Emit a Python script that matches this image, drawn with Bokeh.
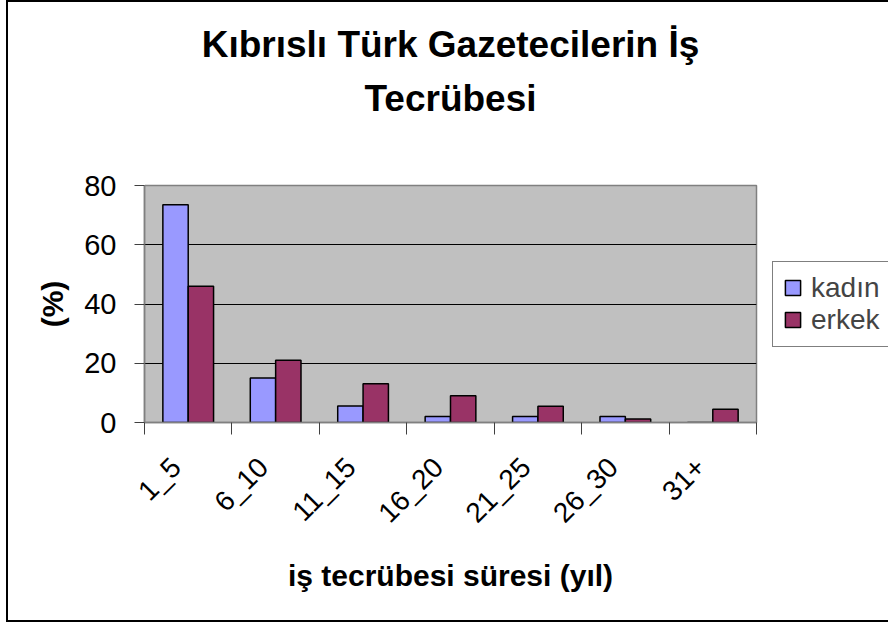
from math import pi
from bokeh.plotting import figure
from bokeh.models import (FactorRange, Range1d, LinearAxis, FixedTicker, Title,
                          Legend, LegendItem, ColumnDataSource)
from bokeh.transform import dodge
from bokeh.embed import file_html
from bokeh.resources import INLINE

categories = ["1_5", "6_10", "11_15", "16_20", "21_25", "26_30", "31+"]
kadin = [73.5, 15.0, 5.6, 2.0, 2.0, 2.0, 0.0]
erkek = [46.0, 21.0, 13.1, 9.0, 5.5, 1.2, 4.5]
y_ticks = [0, 20, 40, 60, 80]
title_lines = ["Kıbrıslı Türk Gazetecilerin İş", "Tecrübesi"]
x_title = "iş tecrübesi süresi (yıl)"
y_title = "(%)"
series_names = ["kadın", "erkek"]

FONT = "Liberation Sans"

p = figure(frame_width=612, frame_height=237, x_range=FactorRange(factors=categories),
           y_range=Range1d(0, 80), output_backend="svg", toolbar_location=None,
           x_axis_location=None, min_border_left=136, min_border_right=132,
           min_border_top=183, min_border_bottom=198)
p.styles = {"margin-left": "6px", "border-left": "2px solid black",
            "border-top": "2px solid black", "border-bottom": "2px solid black"}
p.background_fill_color = "#C0C0C0"
p.border_fill_color = "white"
p.outline_line_color = "#808080"
p.outline_line_width = 1.5
p.xgrid.visible = False
p.ygrid.grid_line_color = "black"
p.ygrid.grid_line_width = 1
p.ygrid.ticker = FixedTicker(ticks=y_ticks)

ya = p.yaxis[0]
ya.ticker = FixedTicker(ticks=y_ticks)
ya.axis_line_color = "#808080"
ya.axis_line_width = 1.5
ya.major_tick_line_color = "#404040"
ya.major_tick_out = 10
ya.major_tick_in = 0
ya.minor_tick_line_color = None
ya.major_label_standoff = 18
ya.major_label_text_font = FONT
ya.major_label_text_font_size = "29px"
ya.major_label_text_color = "black"
ya.axis_label = y_title
ya.axis_label_text_font = FONT
ya.axis_label_text_font_size = "30px"
ya.axis_label_text_font_style = "bold"
ya.axis_label_text_color = "black"
ya.axis_label_standoff = 12

n = len(categories)
shift = 0.14
label_pos = [i + 0.5 - shift for i in range(n)]
xa = LinearAxis(ticker=FixedTicker(ticks=label_pos, minor_ticks=list(range(n + 1))),
                major_label_overrides={t: c for t, c in zip(label_pos, categories)},
                major_tick_out=0, major_tick_in=0,
                minor_tick_out=12, minor_tick_in=0, minor_tick_line_color="#404040",
                axis_line_color="#808080", axis_line_width=1.5,
                major_label_orientation=pi / 4, major_label_standoff=28,
                major_label_text_font=FONT, major_label_text_font_size="28px",
                major_label_text_color="black",
                axis_label=x_title, axis_label_text_font=FONT,
                axis_label_text_font_size="30px", axis_label_text_font_style="bold",
                axis_label_text_color="black", axis_label_standoff=17)
p.add_layout(xa, "below")

# blank spacer between the plot frame and the two title lines
spacer = LinearAxis(ticker=FixedTicker(ticks=[0]), axis_line_color=None,
                    major_tick_line_color="white", minor_tick_line_color=None,
                    major_tick_out=65, major_tick_in=0, major_label_standoff=0,
                    major_label_text_color=None)
p.add_layout(spacer, "above")

src = ColumnDataSource(dict(cat=categories, kadin=kadin, erkek=erkek))
r1 = p.vbar(x=dodge("cat", -0.145, range=p.x_range), top="kadin", width=0.29, source=src,
            fill_color="#9999FF", line_color="black", line_width=1.5)
r2 = p.vbar(x=dodge("cat", 0.145, range=p.x_range), top="erkek", width=0.29, source=src,
            fill_color="#993366", line_color="black", line_width=1.5)

legend = Legend(items=[LegendItem(label=series_names[0], renderers=[r1]),
                       LegendItem(label=series_names[1], renderers=[r2])],
                location="center_left", border_line_color="black", border_line_width=1,
                background_fill_color="white", background_fill_alpha=1,
                label_text_font=FONT, label_text_font_size="28px",
                glyph_width=19, glyph_height=19, padding=10, spacing=0,
                label_standoff=9, margin=16)
p.add_layout(legend, "right")

p.add_layout(Title(text=title_lines[1], align="center", text_font=FONT,
                   text_font_style="bold", text_font_size="37px", text_color="black",
                   standoff=4), "above")
p.add_layout(Title(text=title_lines[0], align="center", text_font=FONT,
                   text_font_style="bold", text_font_size="37px", text_color="black",
                   standoff=18), "above")

open("out.html", "w").write(file_html(p, INLINE))
